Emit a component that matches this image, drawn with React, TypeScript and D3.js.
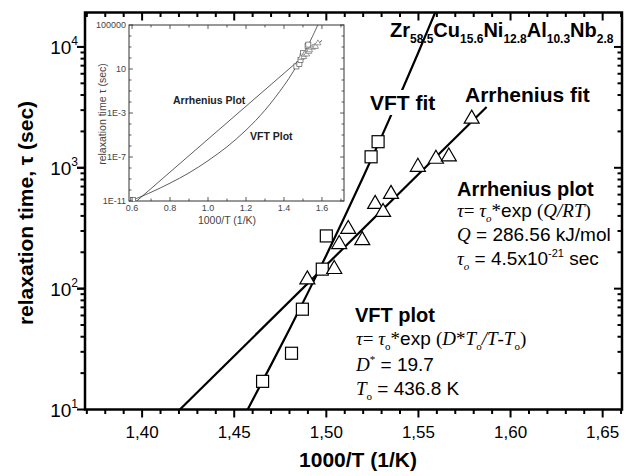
import React from 'react';
import * as d3 from 'd3';

const W = 632;
const H = 476;
const SANS = '"Liberation Sans", Arial, sans-serif';
const SERIF = '"Liberation Serif", "Times New Roman", serif';

// measured points (squares = VFT set, triangles = Arrhenius set)
const vftX = [1.4654, 1.4811, 1.487, 1.4978, 1.5, 1.5243, 1.5281];
const vftTau = [17.1, 29.2, 67.6, 145, 273, 1233, 1644];
const arrX = [1.4897, 1.5043, 1.507, 1.5119, 1.5195, 1.5265, 1.5308, 1.5351, 1.5497, 1.5595, 1.5665, 1.5789];
const arrTau = [124, 151, 243, 324, 262, 522, 448, 632, 1059, 1234, 1290, 2650];

// fit lines
const vftFitX = [1.4573, 1.47, 1.48, 1.49, 1.5, 1.51, 1.52, 1.53, 1.54, 1.55, 1.56];
const vftFitTau = [10, 23.4, 46.1, 92.7, 189, 395, 838, 1811, 4000, 9036, 20800];
const arrFitX = [1.4205, 1.587];
const arrFitTau = [10, 3180];

const xMajor = [1.4, 1.45, 1.5, 1.55, 1.6, 1.65];
const yDecades = [1, 2, 3, 4];

// inset curves
const insetArrX = [0.6, 1.6];
const insetArrTau = [4.3e-12, 4000];
const insetVftX = [0.6, 0.7, 0.8, 0.9, 1.0, 1.1, 1.2, 1.3, 1.4, 1.45, 1.5, 1.55, 1.58];
const insetVftTau = [1.15e-11, 6.2e-11, 4.2e-10, 3.6e-9, 4.6e-8, 8.5e-7, 2.75e-5, 1.8e-3, 0.31, 6.3, 190, 9100, 120000];
const insetCornerX = [0.605];
const insetCornerTau = [1.2e-11];
const insetXTicks = [0.6, 0.8, 1.0, 1.2, 1.4, 1.6];
const insetYTicks = [1e5, 10, 1e-3, 1e-7, 1e-11];
const insetYLabels = ['100000', '10', '1E-3', '1E-7', '1E-11'];

const Square = ({ cx, cy, s, stroke, sw }: any) => (
  <rect x={cx - s / 2} y={cy - s / 2} width={s} height={s} fill="#fff" stroke={stroke} strokeWidth={sw} />
);
const Tri = ({ cx, cy, w, h, stroke, sw }: any) => (
  <path d={`M${cx},${cy - h / 2}L${cx + w / 2},${cy + h / 2}L${cx - w / 2},${cy + h / 2}Z`} fill="#fff" stroke={stroke} strokeWidth={sw} />
);

export default function App() {
  const L = 85, R = 622, T = 12.5, B = 409.5;
  const x = d3.scaleLinear().domain([1.369, 1.6605]).range([L, R]);
  const y = d3.scaleLog().domain([10, Math.pow(10, 4.285)]).range([B, T]);

  const xMinor = d3.range(137, 167).map(i => i / 100).filter(v => v > 1.369 && v < 1.6605);
  const yMinor = y.ticks().filter(v => v > 10 && v < y.domain()[1]);

  const line = d3.line<[number, number]>().x(d => x(d[0])).y(d => y(d[1]));
  const vftFit = line(vftFitX.map((v, i) => [v, vftFitTau[i]]));
  const arrFit = line(arrFitX.map((v, i) => [v, arrFitTau[i]]));

  // inset
  const iL = 129, iR = 344, iT = 25, iB = 201;
  const ix = d3.scaleLinear().domain([0.584, 1.716]).range([iL, iR]);
  const iy = d3.scaleLog().domain([1e-11, 1e5]).range([iB, iT]);
  const iline = d3.line<[number, number]>().x(d => ix(d[0])).y(d => iy(d[1]));
  const iArr = iline(insetArrX.map((v, i) => [v, insetArrTau[i]]));
  const iVft = iline.curve(d3.curveCatmullRom)(insetVftX.map((v, i) => [v, insetVftTau[i]]));
  const iXMinor = d3.range(6, 18).map(i => i / 10);
  const iYMinor = d3.range(-11, 6).map(e => Math.pow(10, e));

  const fmt = (v: number) => d3.format('.2f')(v).replace('.', ',');
  const ink = '#444';

  return (
    <svg width={W} height={H} style={{ position: 'absolute', left: 0, top: 0, background: '#fff' }}>
      <defs>
        <clipPath id="main"><rect x={L} y={T} width={R - L} height={B - T} /></clipPath>
        <clipPath id="ins"><rect x={iL} y={iT} width={iR - iL} height={iB - iT} /></clipPath>
      </defs>

      {/* fit lines */}
      <g clipPath="url(#main)" fill="none" stroke="#000" strokeWidth={2.2}>
        <path d={vftFit || ''} />
        <path d={arrFit || ''} />
      </g>

      {/* markers */}
      {vftX.map((v, i) => <Square key={'s' + i} cx={x(v)} cy={y(vftTau[i])} s={12} stroke="#000" sw={1.2} />)}
      {arrX.map((v, i) => <Tri key={'t' + i} cx={x(v)} cy={y(arrTau[i])} w={15} h={13} stroke="#000" sw={1.2} />)}

      {/* gap for label */}
      <rect x={368} y={90} width={72} height={25} fill="#fff" />

      {/* frame + ticks */}
      <rect x={L} y={T} width={R - L} height={B - T} fill="none" stroke="#000" strokeWidth={2.5} />
      <g stroke="#000" strokeWidth={2}>
        {xMinor.map(v => {
          const maj = xMajor.some(m => Math.abs(m - v) < 1e-6);
          const len = maj ? 8 : 4.5;
          return (
            <g key={'xt' + v}>
              <line x1={x(v)} x2={x(v)} y1={B} y2={B + len} />
              <line x1={x(v)} x2={x(v)} y1={T} y2={T + len} />
            </g>
          );
        })}
        {yMinor.map(v => {
          const maj = Math.abs(Math.log10(v) - Math.round(Math.log10(v))) < 1e-6;
          const len = maj ? 8 : 4.5;
          return (
            <g key={'yt' + v}>
              <line x1={L} x2={L - len} y1={y(v)} y2={y(v)} />
              <line x1={R} x2={R - len} y1={y(v)} y2={y(v)} />
            </g>
          );
        })}
        {yDecades.map(d => (
          <line key={'yd' + d} x1={L} x2={L - 8} y1={y(Math.pow(10, d))} y2={y(Math.pow(10, d))} />
        ))}
      </g>

      {/* tick labels */}
      <g fontFamily={SANS} fill="#000">
        {xMajor.map(v => (
          <text key={'xl' + v} x={x(v)} y={438} fontSize={17} textAnchor="middle">{fmt(v)}</text>
        ))}
        {yDecades.map(d => (
          <text key={'yl' + d} x={78} y={y(Math.pow(10, d)) + 7} fontSize={19} textAnchor="end">
            10<tspan fontSize={12} dy={-9}>{d}</tspan>
          </text>
        ))}
      </g>

      {/* axis titles */}
      <text x={358} y={467} fontFamily={SANS} fontWeight="bold" fontSize={21} textAnchor="middle">1000/T (1/K)</text>
      <text transform="translate(33,213) rotate(-90)" fontFamily={SANS} fontWeight="bold" fontSize={21} textAnchor="middle">relaxation time, τ (sec)</text>

      {/* composition */}
      <text x={390} y={37} fontFamily={SANS} fontWeight="bold" fontSize={20}>
        Zr<tspan fontSize={12} dy={6}>58.5</tspan>
        <tspan dy={-6}>Cu</tspan><tspan fontSize={12} dy={6}>15.6</tspan>
        <tspan dy={-6}>Ni</tspan><tspan fontSize={12} dy={6}>12.8</tspan>
        <tspan dy={-6}>Al</tspan><tspan fontSize={12} dy={6}>10.3</tspan>
        <tspan dy={-6}>Nb</tspan><tspan fontSize={12} dy={6}>2.8</tspan>
      </text>

      <text x={370} y={110} fontFamily={SANS} fontWeight="bold" fontSize={21}>VFT fit</text>
      <text x={465} y={102} fontFamily={SANS} fontWeight="bold" fontSize={21}>Arrhenius fit</text>

      {/* Arrhenius block */}
      <g fontSize={19} fill="#000">
        <text x={457} y={196} fontFamily={SANS} fontWeight="bold" fontSize={20}>Arrhenius plot</text>
        <text x={457} y={217} fontFamily={SERIF}>
          <tspan fontStyle="italic">τ</tspan>= <tspan fontStyle="italic">τ</tspan>
          <tspan fontSize={11} fontStyle="italic" dy={5}>o</tspan>
          <tspan dy={-5}>*</tspan><tspan fontFamily={SANS}>exp </tspan>(
          <tspan fontStyle="italic">Q/RT</tspan>)
        </text>
        <text x={457} y={241} fontFamily={SERIF}>
          <tspan fontStyle="italic">Q</tspan><tspan fontFamily={SANS}> = 286.56 kJ/mol</tspan>
        </text>
        <text x={457} y={265} fontFamily={SERIF}>
          <tspan fontStyle="italic">τ</tspan>
          <tspan fontSize={11} fontStyle="italic" dy={5}>o</tspan>
          <tspan fontFamily={SANS} dy={-5}> = 4.5x10</tspan>
          <tspan fontFamily={SANS} fontSize={11} dy={-8}>-21</tspan>
          <tspan fontFamily={SANS} dy={8}> sec</tspan>
        </text>
      </g>

      {/* VFT block */}
      <g fontSize={19} fill="#000">
        <text x={355} y={322} fontFamily={SANS} fontWeight="bold" fontSize={20}>VFT plot</text>
        <text x={356} y={345} fontFamily={SERIF}>
          <tspan fontStyle="italic">τ</tspan>= <tspan fontStyle="italic">τ</tspan>
          <tspan fontSize={11} dy={5}>o</tspan>
          <tspan dy={-5}>*</tspan><tspan fontFamily={SANS}>exp </tspan>(
          <tspan fontStyle="italic">D</tspan>*<tspan fontStyle="italic">T</tspan>
          <tspan fontSize={11} dy={5}>o</tspan>
          <tspan dy={-5} fontStyle="italic">/T</tspan>-<tspan fontStyle="italic">T</tspan>
          <tspan fontSize={11} dy={5}>o</tspan>
          <tspan dy={-5}>)</tspan>
        </text>
        <text x={356} y={371} fontFamily={SERIF}>
          <tspan fontStyle="italic">D</tspan>
          <tspan fontSize={11} dy={-8}>*</tspan>
          <tspan fontFamily={SANS} dy={8}> = 19.7</tspan>
        </text>
        <text x={356} y={395} fontFamily={SERIF}>
          <tspan fontStyle="italic">T</tspan>
          <tspan fontSize={11} dy={5}>o</tspan>
          <tspan fontFamily={SANS} dy={-5}> = 436.8 K</tspan>
        </text>
      </g>

      {/* inset */}
      <g>
        <rect x={iL} y={iT} width={iR - iL} height={iB - iT} fill="#fff" stroke="#333" strokeWidth={1} />
        <g clipPath="url(#ins)" fill="none" stroke="#333" strokeWidth={0.8}>
          <path d={iArr || ''} />
          <path d={iVft || ''} />
        </g>
        <g clipPath="url(#ins)">
          {vftX.map((v, i) => <Square key={'is' + i} cx={ix(v)} cy={iy(vftTau[i])} s={5} stroke="#555" sw={0.7} />)}
          {arrX.map((v, i) => <Tri key={'it' + i} cx={ix(v)} cy={iy(arrTau[i])} w={6} h={5} stroke="#777" sw={0.7} />)}
          {insetCornerX.map((v, i) => <Square key={'ic' + i} cx={ix(v)} cy={iy(insetCornerTau[i])} s={5} stroke="#555" sw={0.7} />)}
        </g>
        <g stroke="#333" strokeWidth={0.8}>
          {iXMinor.map(v => {
            const maj = insetXTicks.some(m => Math.abs(m - v) < 1e-6);
            const len = maj ? 4 : 2.5;
            return (
              <g key={'ixt' + v}>
                <line x1={ix(v)} x2={ix(v)} y1={iB} y2={iB - len} />
                <line x1={ix(v)} x2={ix(v)} y1={iT} y2={iT + len} />
              </g>
            );
          })}
          {iYMinor.map(v => {
            const maj = insetYTicks.some(m => Math.abs(Math.log10(m) - Math.log10(v)) < 1e-6);
            const len = maj ? 4 : 2.5;
            return (
              <g key={'iyt' + v}>
                <line x1={iL} x2={iL + len} y1={iy(v)} y2={iy(v)} />
                <line x1={iR} x2={iR - len} y1={iy(v)} y2={iy(v)} />
              </g>
            );
          })}
        </g>
        <g fontFamily={SANS} fontSize={9} fill={ink}>
          {insetXTicks.map(v => (
            <text key={'ixl' + v} x={ix(v)} y={211} textAnchor="middle">{v.toFixed(1)}</text>
          ))}
          {insetYTicks.map((v, i) => (
            <text key={'iyl' + i} x={126} y={iy(v) + 3} textAnchor="end">{insetYLabels[i]}</text>
          ))}
        </g>
        <text x={227} y={224} fontFamily={SANS} fontSize={10.5} fill={ink} textAnchor="middle">1000/T (1/K)</text>
        <text transform="translate(106,114) rotate(-90)" fontFamily={SANS} fontSize={10.5} fill={ink} textAnchor="middle">relaxation time τ (sec)</text>
        <text x={173} y={104} fontFamily={SANS} fontWeight="bold" fontSize={10.5} fill="#222">Arrhenius Plot</text>
        <text x={250} y={140} fontFamily={SANS} fontWeight="bold" fontSize={10.5} fill="#222">VFT Plot</text>
      </g>
    </svg>
  );
}
